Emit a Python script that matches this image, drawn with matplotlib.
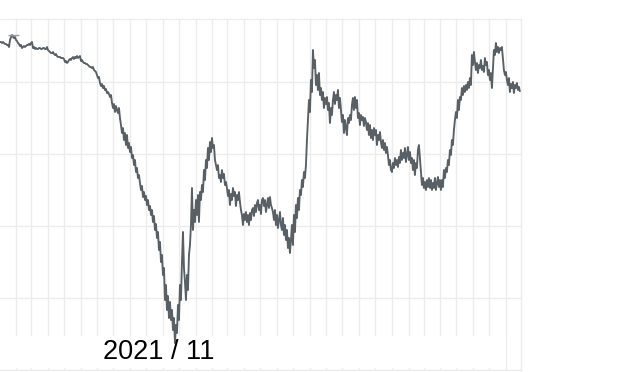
import pandas as pd
import matplotlib.pyplot as plt
import matplotlib.dates as mdates
import matplotlib.ticker as mticker
from matplotlib.patches import Rectangle

# ---------------------------------------------------------------
# Daten (gleichmaessige Zeitschritte)
# ---------------------------------------------------------------
START = "2021-01-02"
ENDE = "2023-08-27"
LABEL = "2021 / 11"

level = [
    328, 328, 327, 328, 327, 326, 326, 325, 325, 323,
    330, 333, 335, 333, 332, 333, 330, 329, 327, 326,
    324, 325, 322, 323, 324, 323, 324, 325, 325, 326,
    325, 327, 328, 322, 323, 321, 322, 321, 321, 322,
    322, 321, 321, 322, 322, 321, 321, 323, 320, 319,
    318, 317, 317, 318, 316, 315, 316, 314, 313, 313,
    313, 312, 312, 312, 311, 308, 309, 307, 308, 310,
    311, 310, 312, 313, 311, 313, 312, 314, 312, 313,
    314, 309, 310, 308, 307, 307, 306, 306, 305, 304,
    303, 303, 302, 303, 300, 299, 298, 295, 292, 293,
    287,
    284, 286, 282, 284, 280, 281, 277, 278, 276, 273,
    275, 267, 262, 266, 258, 264, 260, 257, 262, 252,
    245, 237, 242, 230, 237, 225, 235, 222, 227, 218,
    223, 212, 215, 205, 210, 198, 202, 192, 195, 187,
    180, 184, 173, 178, 170, 174, 165, 170, 160, 164,
    155, 160, 148, 154, 140, 146, 132, 138, 120, 128,
    108, 115, 95, 102, 70, 85, 60, 74, 52, 68,
    50, 60, 40, 52, 27, 45, 37, 65, 50, 85,
    70, 108, 138, 102, 88, 70, 95, 80, 115, 125,
    145, 182, 140, 160, 148, 170, 155, 175, 148, 178,
    170, 185, 178, 200, 190, 210, 202, 222, 210, 228,
    218, 232, 222, 225, 210, 205, 200, 205, 192, 195,
    188, 200, 192, 196, 185,
    188, 182, 174, 180, 165, 176, 170, 182, 174, 178,
    164, 175, 170, 178, 168, 160, 155, 145, 156, 150,
    158, 148, 155, 145, 157, 150, 160, 162, 154, 165,
    158, 167, 170, 160, 165, 156, 170, 172, 164, 170,
    158, 165, 172, 162, 173, 165, 162, 158, 150, 160,
    145, 155, 142, 150, 158, 145, 140, 152, 135, 145,
    130, 140, 122, 132, 117, 130, 145, 125, 155, 138,
    165, 152, 172, 160, 180,
    175, 190, 183, 198, 192, 205, 230, 250, 270, 258,
    290, 278, 320, 302, 310, 285, 295, 280, 297, 275,
    282, 270, 278, 262, 272, 266, 273, 260, 267, 247,
    262, 255, 270, 278, 266, 275, 270, 280, 262, 272,
    260, 248, 255, 237, 250, 242, 235, 252, 247, 255,
    250, 265, 272, 260, 273, 262, 270, 252, 257, 245,
    255, 250, 253, 244, 252, 248, 240, 247, 235, 245,
    232, 240, 230, 242, 235, 240, 225, 235, 230, 238,
    228, 222, 230, 220, 227, 217, 223, 215, 205, 210,
    200, 198, 207, 202, 212, 205, 210, 203, 213, 207,
    220, 210, 217, 212, 222, 208, 215, 223, 210, 218,
    207, 212, 200, 210, 195, 207, 202, 220, 225, 212,
    200, 185, 192, 182, 188, 180, 190, 183, 192, 182,
    190, 180, 187, 182, 192, 180, 187, 193, 183, 190,
    180, 190, 183, 200, 192, 202, 198, 210, 205, 220,
    215, 230, 225, 240, 250, 258, 252, 270, 260, 273,
    270, 282, 275, 284, 278, 285, 280, 288, 282, 292,
    285, 315, 305, 318, 308, 300, 307, 297, 305, 302,
    310, 300, 304, 298, 312, 305, 308, 295, 300, 290,
    297, 282, 300, 320, 315, 327, 318, 323, 317, 322,
    320, 323, 312, 300, 295, 298, 290, 285, 292, 278,
    286, 282, 288, 277, 285, 282, 287, 280, 283, 279,
]

datum = pd.date_range(START, ENDE, periods=len(level))
serie = pd.Series(level, index=datum)

LINIE = "#585f65"
GITTER = "#ececec"

fig = plt.figure(figsize=(6.2, 3.72), dpi=100)
ax = fig.add_axes([0.0, 0.0054, 0.8403, 0.9435])

ax.plot(serie.index, serie.values, color=LINIE, linewidth=1.35, zorder=2)

# Markierung Hoechstwert
t_max = serie.idxmax()
ax.hlines(serie.max(), t_max - pd.Timedelta(days=8), t_max + pd.Timedelta(days=13),
          color="#9a9a9a", linewidth=1.0, zorder=2)

ax.set_xlim(pd.Timestamp(START), pd.Timestamp(ENDE) + pd.Timedelta(days=2))
ax.set_ylim(0, 351)
ax.xaxis.set_major_locator(mdates.MonthLocator())
ax.yaxis.set_major_locator(mticker.MultipleLocator(72))
ax.set_axisbelow(True)
ax.grid(True, color=GITTER, linewidth=1.0)
ax.tick_params(left=False, bottom=False, labelleft=False, labelbottom=False)
ax.spines["left"].set_visible(False)
for s in ["top", "right", "bottom"]:
    ax.spines[s].set_color(GITTER)
    ax.spines[s].set_linewidth(1.0)

# weisser Streifen unter dem Diagramm (Beschriftungszone)
ax.add_patch(Rectangle((0, 0.006), 0.972, 0.091, transform=ax.transAxes,
                       facecolor="white", edgecolor="none", zorder=1))

ax.text(0.305, 0.03, LABEL, transform=ax.transAxes, ha="center", va="baseline",
        fontsize=19.5, family="Liberation Sans", color="black", zorder=3)

fig.savefig("out.png", dpi=100)
